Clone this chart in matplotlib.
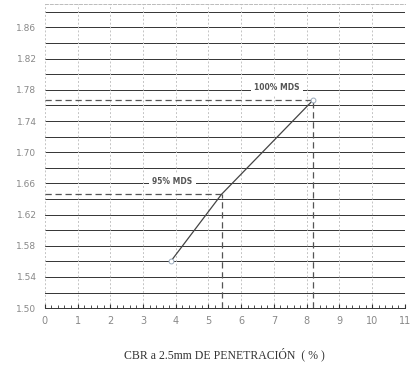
import numpy as np
import matplotlib.pyplot as plt
from matplotlib.ticker import MultipleLocator

# CBR (%) vs densidad seca (g/cm3)
cbr = [3.85, 5.4, 8.2]
dens = [1.560, 1.646, 1.767]

mds_100 = 1.767
cbr_100 = 8.2
mds_95 = 1.646
cbr_95 = 5.4

xticks = list(range(0, 12))
yticks = [1.50, 1.54, 1.58, 1.62, 1.66, 1.70, 1.74, 1.78, 1.82, 1.86]
ygrid = np.arange(1.50, 1.881, 0.02)

fig = plt.figure(figsize=(4.11, 3.73), dpi=100)
ax = fig.add_axes([0.109, 0.174, 0.876, 0.815])
ax.set_xlim(0, 11)
ax.set_ylim(1.50, 1.89)

# horizontal solid lines, vertical dotted grid
for g in ygrid:
    ax.axhline(g, color='#333333', lw=0.7, zorder=1)
for xt in xticks:
    ax.axvline(xt, color='#c4c4c4', lw=0.7, ls=(0, (2, 2)), zorder=1)

# dashed reference lines
ax.plot([0, cbr_100], [mds_100, mds_100], color='#555555', lw=0.9, ls=(0, (5, 3)), zorder=2)
ax.plot([cbr_100, cbr_100], [1.50, mds_100], color='#555555', lw=0.9, ls=(0, (5, 3)), zorder=2)
ax.plot([0, cbr_95], [mds_95, mds_95], color='#555555', lw=0.9, ls=(0, (5, 3)), zorder=2)
ax.plot([cbr_95, cbr_95], [1.50, mds_95], color='#555555', lw=0.9, ls=(0, (5, 3)), zorder=2)

# curve
ax.plot(cbr, dens, color='#444444', lw=0.9, zorder=3,
        marker='o', markevery=[0, 2], ms=3.5, mfc='white', mec='#9aaabb', mew=0.7)

ax.text(3.9, 1.663, '95% MDS', fontsize=5.5, fontweight='bold', color='#555555',
        ha='center', va='center', zorder=4,
        bbox=dict(facecolor='white', edgecolor='none', pad=2.5))
ax.text(7.1, 1.783, '100% MDS', fontsize=5.5, fontweight='bold', color='#555555',
        ha='center', va='center', zorder=4,
        bbox=dict(facecolor='white', edgecolor='none', pad=2.5))

ax.set_xticks(xticks)
ax.set_yticks(yticks)
ax.set_yticklabels(['%.2f' % v for v in yticks])
ax.xaxis.set_minor_locator(MultipleLocator(0.2))
ax.tick_params(axis='x', which='minor', direction='in', length=2.5, color='#333333', top=False)
ax.tick_params(axis='x', which='major', direction='in', length=3, color='#333333', labelsize=7,
               labelcolor='#888888', pad=6)
ax.tick_params(axis='y', which='major', length=0, labelsize=6.5, labelcolor='#888888', pad=6)

for s in ['left', 'right']:
    ax.spines[s].set_visible(False)
ax.spines['top'].set_color('#bbbbbb')
ax.spines['top'].set_linestyle((0, (3, 2)))
ax.spines['top'].set_linewidth(0.7)
ax.spines['bottom'].set_color('#333333')
ax.spines['bottom'].set_linewidth(0.7)

ax.set_xlabel('CBR a 2.5mm DE PENETRACIÓN  ( % )', family='Liberation Serif',
              fontsize=8.5, color='#333333', labelpad=15)

fig.savefig('out.png', dpi=100)
